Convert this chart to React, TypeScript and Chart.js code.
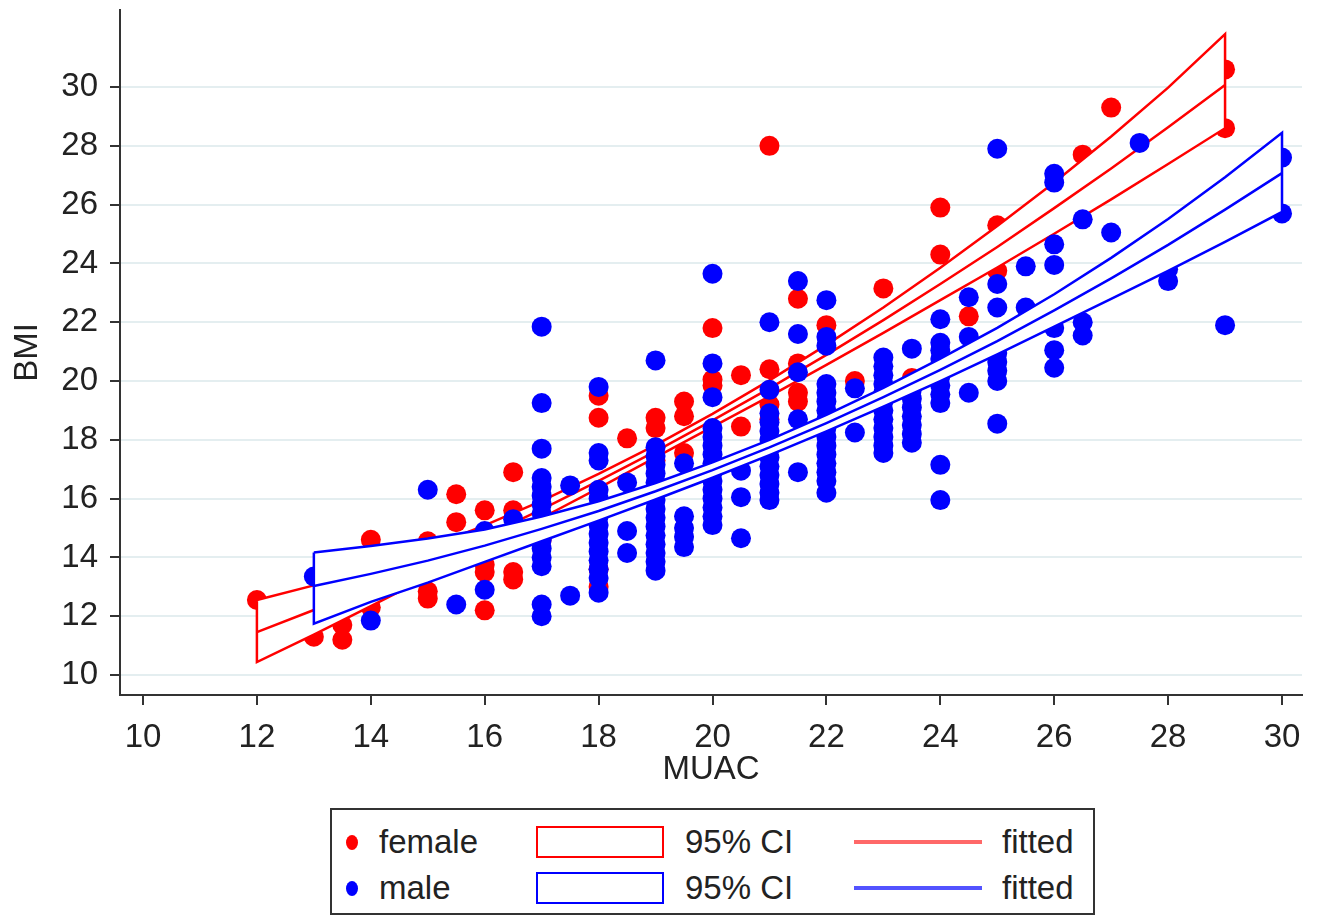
import React, { useEffect, useRef } from "react";
import { Chart, registerables } from "chart.js";

Chart.register(...registerables);

const FONT_FAMILY = "'Liberation Sans', Arial, Helvetica, sans-serif";
const TEXT = "#222222";
const RED = "#ff0000";
const BLUE = "#0000ff";
const AXIS = "#333333";

const xTickValues = [10, 12, 14, 16, 18, 20, 22, 24, 26, 28, 30];
const yTickValues = [10, 12, 14, 16, 18, 20, 22, 24, 26, 28, 30];

// female observations grouped by MUAC column
const femaleMUAC = [12, 13, 13.5, 14, 15, 15.5, 16, 16.5, 17, 18, 18.5, 19, 19.5, 20, 20.5, 21, 21.5, 22, 22.5, 23, 23.5, 24, 24.5, 25, 26.5, 27, 29];
const femaleBMI = [
  [12.55], [11.3], [11.2, 11.7], [14.6, 12.3], [14.55, 12.85, 12.6], [16.15, 15.2],
  [15.6, 13.75, 13.5, 12.2], [16.9, 15.6, 13.5, 13.25], [14.6], [19.5, 18.75, 13.6, 13.0],
  [18.05], [18.75, 18.4, 17.3], [19.3, 18.8, 17.55], [21.8, 20.05, 19.85], [20.2, 18.45],
  [28.0, 20.4, 19.2, 18.7], [22.8, 20.6, 19.6, 19.3], [21.9], [20.0], [23.15], [20.1],
  [25.9, 24.3], [22.2], [25.3, 23.75], [27.7], [29.3], [30.6, 28.6],
];

// male observations grouped by MUAC column
const maleMUAC = [13, 14, 15, 15.5, 16, 16.5, 17, 17.5, 18, 18.5, 19, 19.5, 20, 20.5, 21, 21.5, 22, 22.5, 23, 23.5, 24, 24.5, 25, 25.5, 26, 26.5, 27, 27.5, 28, 29, 30];
const maleBMI = [
  [13.35], [11.85], [16.3], [12.4], [14.9, 12.9], [15.3],
  [21.85, 19.25, 17.7, 16.7, 16.4, 16.1, 15.8, 15.5, 15.2, 14.9, 14.6, 14.3, 14.0, 13.7, 12.4, 12.0],
  [16.45, 12.7],
  [19.8, 17.55, 17.3, 16.3, 16.0, 15.7, 15.4, 15.1, 14.8, 14.5, 14.2, 13.9, 13.6, 13.3, 12.8],
  [16.55, 14.9, 14.15],
  [20.7, 17.75, 17.45, 17.15, 16.85, 16.55, 16.25, 15.95, 15.65, 15.35, 15.05, 14.75, 14.45, 14.15, 13.85, 13.55],
  [17.2, 15.4, 15.0, 14.7, 14.35],
  [23.65, 20.6, 19.45, 18.4, 18.1, 17.8, 17.5, 17.2, 16.9, 16.6, 16.3, 16.0, 15.7, 15.4, 15.1],
  [16.95, 16.05, 14.65],
  [22.0, 19.7, 18.9, 18.6, 18.3, 18.0, 17.7, 17.4, 17.1, 16.8, 16.5, 16.2, 15.95],
  [23.4, 21.6, 20.3, 18.7, 16.9],
  [22.75, 21.5, 21.2, 19.9, 19.6, 19.3, 19.0, 18.7, 18.4, 18.1, 17.8, 17.5, 17.2, 16.9, 16.6, 16.2],
  [19.75, 18.25],
  [20.8, 20.5, 20.2, 19.9, 19.6, 19.3, 19.0, 18.7, 18.4, 18.1, 17.8, 17.55],
  [21.1, 19.7, 19.4, 19.1, 18.8, 18.5, 18.2, 17.9],
  [22.1, 21.3, 21.05, 20.75, 20.45, 20.15, 19.85, 19.55, 19.25, 17.15, 15.95],
  [22.85, 21.5, 19.6],
  [27.9, 23.3, 22.5, 20.95, 20.65, 20.35, 20.0, 18.55],
  [23.9, 22.5],
  [27.05, 26.75, 24.65, 23.95, 21.8, 21.05, 20.45],
  [25.5, 22.0, 21.55],
  [25.05],
  [28.1],
  [23.8, 23.4],
  [21.9],
  [27.6, 25.7],
];

// fitted curve and 95% CI (female)
const femaleFitX = [12, 13, 14, 15, 16, 17, 18, 19, 20, 21, 22, 23, 24, 25, 26, 27, 28, 29];
const femaleFit = [11.46, 12.21, 13.0, 13.83, 14.71, 15.63, 16.6, 17.61, 18.66, 19.75, 20.89, 22.07, 23.3, 24.56, 25.88, 27.23, 28.63, 30.07];
const femaleUpper = [12.55, 13.05, 13.66, 14.33, 15.09, 15.92, 16.84, 17.82, 18.88, 20.02, 21.23, 22.5, 23.85, 25.27, 26.75, 28.32, 29.98, 31.8];
const femaleLower = [10.44, 11.37, 12.34, 13.33, 14.33, 15.34, 16.36, 17.4, 18.44, 19.48, 20.55, 21.64, 22.75, 23.86, 25.01, 26.18, 27.38, 28.6];

// fitted curve and 95% CI (male)
const maleFitX = [13, 14, 15, 16, 17, 18, 19, 20, 21, 22, 23, 24, 25, 26, 27, 28, 29, 30];
const maleFit = [13.03, 13.44, 13.89, 14.4, 14.97, 15.58, 16.25, 16.97, 17.74, 18.57, 19.45, 20.38, 21.36, 22.4, 23.49, 24.63, 25.83, 27.07];
const maleUpper = [14.17, 14.39, 14.64, 14.95, 15.39, 15.91, 16.53, 17.23, 18.0, 18.85, 19.77, 20.76, 21.81, 22.95, 24.19, 25.51, 26.93, 28.44];
const maleLower = [11.75, 12.49, 13.14, 13.85, 14.55, 15.25, 15.97, 16.71, 17.48, 18.29, 19.13, 20.0, 20.91, 21.85, 22.79, 23.75, 24.73, 25.75];

type Pt = { x: number; y: number };

function columnsToPoints(xs: number[], ys: number[][]): Pt[] {
  const out: Pt[] = [];
  xs.forEach((x, i) => ys[i].forEach((y) => out.push({ x, y })));
  return out;
}

function linePoints(xs: number[], ys: number[]): Pt[] {
  return xs.map((x, i) => ({ x, y: ys[i] }));
}

function bandPolygon(xs: number[], upper: number[], lower: number[]): Pt[] {
  const top = xs.map((x, i) => ({ x, y: upper[i] }));
  const bottom = xs.map((x, i) => ({ x, y: lower[i] })).reverse();
  return [...top, ...bottom, top[0]];
}

function ChartCanvas() {
  const ref = useRef<HTMLCanvasElement | null>(null);

  useEffect(() => {
    if (!ref.current) return;
    const font = { family: FONT_FAMILY, size: 33 };
    const lineDs = (data: Pt[], color: string) => ({
      data,
      showLine: true,
      borderColor: color,
      borderWidth: 2.5,
      pointRadius: 0,
      fill: false,
    });
    const bandDs = (data: Pt[], color: string) => ({
      data,
      showLine: true,
      borderColor: color,
      borderWidth: 2.5,
      backgroundColor: "#ffffff",
      pointRadius: 0,
      fill: "shape",
    });
    const pointDs = (data: Pt[], color: string) => ({
      data,
      showLine: false,
      backgroundColor: color,
      borderWidth: 0,
      pointRadius: 10,
      pointBorderWidth: 0,
    });

    const chart = new Chart(ref.current, {
      type: "scatter",
      data: {
        datasets: [
          // index 0 is drawn on top
          lineDs(linePoints(maleFitX, maleFit), BLUE),
          bandDs(bandPolygon(maleFitX, maleUpper, maleLower), BLUE),
          pointDs(columnsToPoints(maleMUAC, maleBMI), BLUE),
          lineDs(linePoints(femaleFitX, femaleFit), RED),
          bandDs(bandPolygon(femaleFitX, femaleUpper, femaleLower), RED),
          pointDs(columnsToPoints(femaleMUAC, femaleBMI), RED),
        ] as any,
      },
      options: {
        responsive: false,
        animation: false,
        events: [],
        layout: { padding: { top: 10, right: 17, bottom: 128, left: 0 } },
        plugins: {
          legend: { display: false },
          tooltip: { enabled: false },
        },
        scales: {
          x: {
            type: "linear",
            position: "bottom",
            min: 9.596,
            max: 30.351,
            afterBuildTicks: (s: any) => {
              s.ticks = xTickValues.map((v) => ({ value: v }));
            },
            afterFit: (s: any) => {
              s.height = 95;
              s.paddingLeft = 0;
              s.paddingRight = 0;
            },
            grid: {
              drawOnChartArea: false,
              drawTicks: true,
              tickLength: 10,
              color: AXIS,
              lineWidth: 2,
            },
            border: { display: true, color: AXIS, width: 2 },
            ticks: { padding: 13, color: TEXT, font, maxRotation: 0, autoSkip: false },
            title: {
              display: true,
              text: "MUAC",
              color: TEXT,
              font,
              padding: { top: 0, bottom: 0 },
            },
          },
          y: {
            type: "linear",
            position: "left",
            min: 9.32,
            max: 32.62,
            afterBuildTicks: (s: any) => {
              s.ticks = yTickValues.map((v) => ({ value: v }));
            },
            afterFit: (s: any) => {
              s.width = 120;
              s.paddingTop = 0;
              s.paddingBottom = 0;
            },
            grid: {
              color: "#e4eef0",
              lineWidth: 2,
              tickColor: AXIS,
              tickWidth: 2,
              tickLength: 10,
            },
            border: { display: true, color: AXIS, width: 2 },
            ticks: { padding: 12, color: TEXT, font, autoSkip: false },
            title: {
              display: true,
              text: "BMI",
              color: TEXT,
              font,
              padding: { top: 8, bottom: 0 },
            },
          },
        },
      } as any,
    });
    return () => chart.destroy();
  }, []);

  return (
    <canvas
      ref={ref}
      width={1319}
      height={918}
      style={{ position: "absolute", left: 0, top: 0, width: 1319, height: 918 }}
    />
  );
}

const legendRows = [
  { label: "female", color: RED, fitColor: "rgba(255,40,40,0.7)", cy: 842 },
  { label: "male", color: BLUE, fitColor: "rgba(40,40,255,0.8)", cy: 888 },
];

function Legend() {
  const text: React.CSSProperties = {
    position: "absolute",
    fontFamily: FONT_FAMILY,
    fontSize: 33,
    color: TEXT,
    lineHeight: "40px",
    height: 40,
    whiteSpace: "nowrap",
  };
  return (
    <div
      style={{
        position: "absolute",
        left: 330,
        top: 808,
        width: 765,
        height: 107,
        boxSizing: "border-box",
        border: `2px solid ${AXIS}`,
        background: "#ffffff",
      }}
    >
      {legendRows.map((r) => {
        const cy = r.cy - 810;
        return (
          <React.Fragment key={r.label}>
            <div
              style={{
                position: "absolute",
                left: 14,
                top: cy - 7,
                width: 12,
                height: 15,
                borderRadius: "50%",
                background: r.color,
              }}
            />
            <div style={{ ...text, left: 47, top: cy - 20 }}>{r.label}</div>
            <div
              style={{
                position: "absolute",
                left: 204,
                top: cy - 16,
                width: 128,
                height: 32,
                boxSizing: "border-box",
                border: `2px solid ${r.color}`,
              }}
            />
            <div style={{ ...text, left: 353, top: cy - 20 }}>95% CI</div>
            <div
              style={{
                position: "absolute",
                left: 522,
                top: cy - 2,
                width: 128,
                height: 4,
                background: r.fitColor,
              }}
            />
            <div style={{ ...text, left: 670, top: cy - 20 }}>fitted</div>
          </React.Fragment>
        );
      })}
    </div>
  );
}

export default function App() {
  return (
    <div
      style={{
        position: "absolute",
        left: 0,
        top: 0,
        width: 1319,
        height: 918,
        background: "#ffffff",
        overflow: "hidden",
      }}
    >
      <ChartCanvas />
      <Legend />
    </div>
  );
}
